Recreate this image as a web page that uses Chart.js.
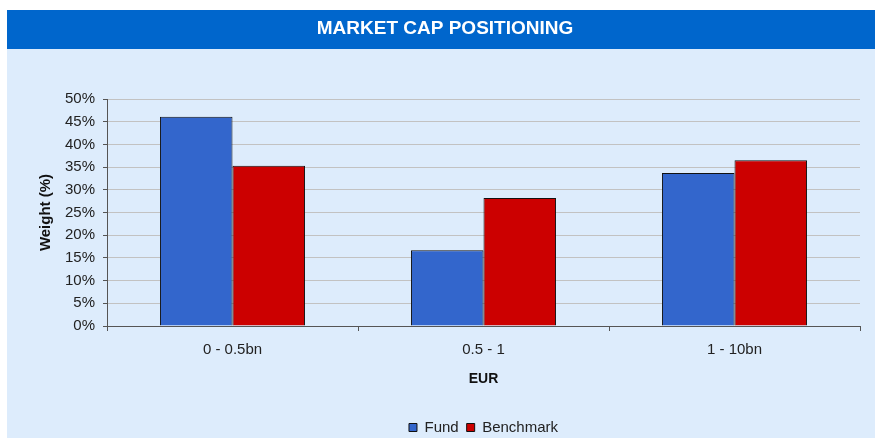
<!DOCTYPE html>
<html>
<head>
<meta charset="utf-8">
<script src="https://cdn.jsdelivr.net/npm/chart.js@4/dist/chart.umd.min.js"></script>
<style>
html,body{margin:0;padding:0;background:#fff;}
canvas{display:block;}
</style>
</head>
<body>
<canvas id="c" width="875" height="438"></canvas>
<script>
const categories = ['0 - 0.5bn', '0.5 - 1', '1 - 10bn'];
const fundValues = [46.1, 16.7, 33.7];
const benchmarkValues = [35.3, 28.2, 36.5];
const seriesNames = ['Fund', 'Benchmark'];
const chartTitle = 'MARKET CAP POSITIONING';
const yAxisTitle = 'Weight (%)';
const xAxisTitle = 'EUR';

const FONT = 'Arial, "Liberation Sans", sans-serif';

const backdrop = {
  id: 'backdrop',
  beforeDraw(chart) {
    const ctx = chart.ctx;
    ctx.save();
    ctx.fillStyle = '#DDECFC';
    ctx.fillRect(7, 10, 868, 428);
    ctx.fillStyle = '#0066CC';
    ctx.fillRect(7, 10, 868, 39);
    ctx.fillStyle = '#FFFFFF';
    ctx.font = 'bold 19px ' + FONT;
    ctx.textAlign = 'center';
    ctx.textBaseline = 'middle';
    ctx.fillText(chartTitle, 445, 29);
    ctx.restore();
  }
};

new Chart(document.getElementById('c'), {
  type: 'bar',
  data: {
    labels: categories,
    datasets: [
      { label: seriesNames[0], data: fundValues, backgroundColor: '#3366CC', borderColor: '#111111', borderWidth: 1 },
      { label: seriesNames[1], data: benchmarkValues, backgroundColor: '#CC0000', borderColor: '#111111', borderWidth: 1 }
    ]
  },
  options: {
    responsive: false,
    animation: false,
    layout: { padding: { top: 99, left: 30, right: 15, bottom: 0 } },
    datasets: { bar: { categoryPercentage: 0.578, barPercentage: 1.0 } },
    plugins: {
      legend: {
        position: 'bottom',
        fullSize: false,
        maxHeight: 26,
        labels: {
          font: { family: FONT, size: 15 },
          color: '#222',
          boxWidth: 8,
          boxHeight: 8,
          padding: 8
        }
      },
      tooltip: { enabled: false }
    },
    scales: {
      x: {
        afterFit(scale) { scale.height = 86; },
        grid: { offset: true, drawOnChartArea: false, tickLength: 5, color: '#555' },
        border: { display: true, color: '#555', width: 1 },
        ticks: { font: { family: FONT, size: 15 }, color: '#222', padding: 10 },
        title: { display: true, text: xAxisTitle, font: { family: FONT, size: 14, weight: 'bold' }, color: '#111', padding: { top: 12, bottom: 24 } }
      },
      y: {
        min: 0, max: 50,
        afterFit(scale) { scale.width = 77; },
        grid: { color: '#C2C2C2', tickLength: 4, tickColor: '#555', lineWidth: 1 },
        border: { display: true, color: '#555', width: 1 },
        ticks: { stepSize: 5, font: { family: FONT, size: 15 }, color: '#222', padding: 8, callback: v => v + '%' },
        title: { display: true, text: yAxisTitle, font: { family: FONT, size: 15, weight: 'bold' }, color: '#111', padding: { top: 7, bottom: 7 } }
      }
    }
  },
  plugins: [backdrop]
});
</script>
</body>
</html>
